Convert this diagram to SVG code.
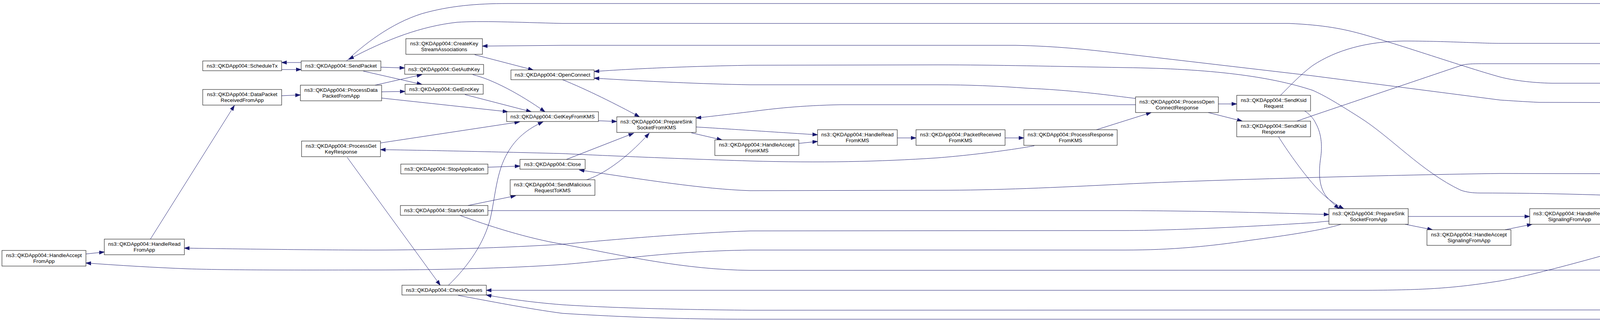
<svg xmlns="http://www.w3.org/2000/svg" width="5741" height="819" viewBox="0 0 5741 819">
<style>
.node rect{fill:#ffffff;stroke:#000000;stroke-width:1}
.node.target rect{fill:#bfbfbf}
.node text{font-family:"Liberation Sans",Arial,Helvetica,sans-serif;font-size:13.33px;text-anchor:middle;fill:#000000}
.edge path{fill:none;stroke:#191970;stroke-width:1;marker-end:url(#ah)}
</style>
<defs>
<marker id="ah" markerWidth="15" markerHeight="12" refX="13" refY="5" orient="auto" markerUnits="userSpaceOnUse">
<path d="M0,0.5 L13,5 L0,9.5 Z" fill="#191970" stroke="#191970" stroke-width="1"/>
</marker>
</defs>
<rect x="0" y="0" width="5741" height="819" fill="#ffffff"/>
<g id="edges" class="edge">
<path d="M220,650 L267,645"/>
<path d="M3433,574 C3400,585 3330,598 3200,615 C3100,630 3000,640 2880,640 L1920,640 C1700,643 1560,668 1440,677 C1300,687 1100,691 960,691 C800,691 600,692 480,688 C400,685 300,679 220,673"/>
<path d="M3402,566 C3385,567 3372,569 3360,570 C3200,580 3000,590 2880,590 L1920,591 C1750,597 1550,615 1440,625 C1300,634 1100,640 960,640 C800,640 600,637 472,635"/>
<path d="M385,612 L600,270"/>
<path d="M771,160 L721,160"/>
<path d="M721,178 L771,178"/>
<path d="M721,245 L769,243"/>
<path d="M887,156 C930,115 1000,60 1080,35 C1150,15 1220,9 1300,9 L5060,9 C5180,11 5290,28 5390,52 C5470,72 5530,95 5576,116"/>
<path d="M5351,482 C5320,440 5270,390 5220,350 C5130,280 5030,235 4950,220 C4890,213 4850,213 4800,213 L3973,213 C3920,212 3870,205 3840,197 C3760,175 3600,120 3493,89 C3440,74 3390,64 3300,60 L1440,60 C1320,57 1230,53 1170,57 C1080,67 990,100 893,152"/>
<path d="M5343,482 C5320,458 5300,445 5270,428 C5180,375 5060,305 4960,280 C4880,266 4850,264 4800,264 L3940,262 C3900,260 3870,258 3840,256 L3360,194 L2880,138 C2780,126 2700,118 2600,116 L1440,116 L1235,118"/>
<path d="M3278,244 C3300,222 3330,190 3360,168 C3420,128 3500,106 3593,105 C3700,105 3790,111 3840,111 L4800,111 C5000,112 5150,114 5261,116 C5350,118 5450,124 5529,129"/>
<path d="M3320,310 L3360,296 L3745,166 C3760,163 3780,163 3800,163 L4800,163 C5000,162 5150,160 5261,158 C5350,155 5450,150 5529,146"/>
<path d="M3340,284 C3352,292 3362,302 3368,315 C3385,345 3385,380 3380,410 C3375,450 3378,485 3400,508 C3410,518 3418,526 3428,534"/>
<path d="M3273,350 C3295,385 3330,435 3365,475 C3390,503 3415,522 3440,534"/>
<path d="M3119,266 L3166,266"/>
<path d="M3093,288 L3180,310"/>
<path d="M2807,332 L2947,288"/>
<path d="M2907,252 C2850,245 2750,231 2633,226 C2550,220 2480,217 2400,217 L1920,217 C1800,215 1650,208 1521,200"/>
<path d="M2907,268 L2153,268 C2050,270 1980,278 1920,286 C1870,292 1820,298 1782,302"/>
<path d="M2648,373 C2600,382 2500,396 2400,404 C2250,414 2100,417 1920,412 C1700,405 1520,397 1440,393 C1200,387 1050,384 974,383"/>
<path d="M2573,353 L2621,353"/>
<path d="M2297,353 L2345,353"/>
<path d="M2045,367 L2093,362"/>
<path d="M1782,325 C1850,329 1950,336 2093,345"/>
<path d="M1770,340 L1848,358"/>
<path d="M1532,309 L1579,311"/>
<path d="M1440,204 C1500,228 1580,268 1637,299"/>
<path d="M1450,408 L1622,341"/>
<path d="M1502,460 C1540,448 1600,410 1662,341"/>
<path d="M1198,526 L1320,501"/>
<path d="M1249,428 L1331,425"/>
<path d="M4686,458 C4500,452 4400,446 4320,445 L3840,444 C3600,447 3100,460 2880,471 C2700,480 2550,487 2400,487 L1920,488 C1800,484 1650,460 1483,435"/>
<path d="M973,366 L1330,312"/>
<path d="M1148,730 C1200,680 1240,620 1255,560 C1268,505 1270,440 1300,390 C1320,355 1350,330 1390,312"/>
<path d="M889,403 L1127,730"/>
<path d="M4463,551 C4420,565 4350,585 4320,594 C4150,640 3950,700 3840,719 C3720,738 3650,742 3500,743 L1245,743"/>
<path d="M5344,508 C5310,550 5250,610 5180,670 C5080,740 4950,785 4800,793 L1920,794 C1700,792 1550,787 1440,780 C1350,773 1290,763 1245,755"/>
<path d="M1173,756 C1250,770 1350,790 1440,802 C1600,812 1750,817 1920,817 L4800,817 C4950,810 5100,760 5200,690 C5270,640 5320,570 5351,509"/>
<path d="M1177,551 C1250,578 1350,610 1440,625 C1600,655 1750,690 1920,692 L4800,691 C4950,680 5100,630 5200,585 C5260,555 5300,530 5333,509"/>
<path d="M1249,539 L2880,539 C3100,540 3250,545 3402,549"/>
<path d="M3605,554 L3916,554"/>
<path d="M3597,574 L3667,588"/>
<path d="M3853,588 L3922,574"/>
<path d="M4120,554 L4168,554"/>
<path d="M4353,546 L4401,542"/>
<path d="M4401,517 C4370,513 4345,510 4320,509 C4150,499 3950,494 3790,494 C3770,494 3755,492 3740,487 C3640,440 3560,350 3480,300 C3420,262 3390,244 3360,231 C3250,195 3100,176 2880,173 C2700,170 2550,166 2400,166 L1920,167 C1750,170 1620,176 1521,183"/>
<path d="M4603,510 L4707,485"/>
<path d="M4635,531 L4682,531"/>
<path d="M4897,466 L4949,466"/>
<path d="M5195,479 L5242,483"/>
<path d="M4901,524 L5242,504"/>
<path d="M5373,483 L5614,156"/>
<path d="M1215,140 L1365,179"/>
<path d="M975,172 L1036,174"/>
<path d="M930,182 L1080,216"/>
<path d="M960,218 L1080,191"/>
<path d="M977,235 L1037,234"/>
<path d="M977,251 L1300,286"/>
<path d="M1210,191 C1260,203 1330,240 1395,286"/>
<path d="M1190,242 L1360,286"/>
</g>
<g id="n1" class="node"><rect x="5" y="641" width="215" height="40"/><text x="112.5" y="658">ns3::QKDApp004::HandleAccept</text><text x="112.5" y="673">FromApp</text></g>
<g id="n2" class="node"><rect x="267" y="612" width="205" height="40"/><text x="369.5" y="629">ns3::QKDApp004::HandleRead</text><text x="369.5" y="644">FromApp</text></g>
<g id="n3" class="node"><rect x="519" y="156" width="202" height="25"/><text x="620" y="173">ns3::QKDApp004::ScheduleTx</text></g>
<g id="n4" class="node"><rect x="519" y="229" width="202" height="40"/><text x="620" y="246">ns3::QKDApp004::DataPacket</text><text x="620" y="261">ReceivedFromApp</text></g>
<g id="n5" class="node"><rect x="771" y="156" width="204" height="25"/><text x="873" y="173">ns3::QKDApp004::SendPacket</text></g>
<g id="n6" class="node"><rect x="769" y="218" width="208" height="40"/><text x="873" y="235">ns3::QKDApp004::ProcessData</text><text x="873" y="250">PacketFromApp</text></g>
<g id="n7" class="node"><rect x="772" y="361" width="202" height="40"/><text x="873" y="378">ns3::QKDApp004::ProcessGet</text><text x="873" y="393">KeyResponse</text></g>
<g id="n8" class="node"><rect x="1039" y="99" width="196" height="40"/><text x="1137" y="116">ns3::QKDApp004::CreateKey</text><text x="1137" y="131">StreamAssociations</text></g>
<g id="n9" class="node"><rect x="1036" y="165" width="202" height="25"/><text x="1137" y="182">ns3::QKDApp004::GetAuthKey</text></g>
<g id="n10" class="node"><rect x="1037" y="216" width="200" height="25"/><text x="1137" y="233">ns3::QKDApp004::GetEncKey</text></g>
<g id="n11" class="node"><rect x="1308" y="179" width="213" height="25"/><text x="1414.5" y="196">ns3::QKDApp004::OpenConnect</text></g>
<g id="n12" class="node"><rect x="1297" y="286" width="235" height="25"/><text x="1414.5" y="303">ns3::QKDApp004::GetKeyFromKMS</text></g>
<g id="n13" class="node"><rect x="1331" y="408" width="167" height="25"/><text x="1414.5" y="425">ns3::QKDApp004::Close</text></g>
<g id="n14" class="node"><rect x="1306" y="460" width="217" height="40"/><text x="1414.5" y="477">ns3::QKDApp004::SendMalicious</text><text x="1414.5" y="492">RequestToKMS</text></g>
<g id="n15" class="node"><rect x="1026" y="420" width="223" height="25"/><text x="1137.5" y="437">ns3::QKDApp004::StopApplication</text></g>
<g id="n16" class="node"><rect x="1025" y="526" width="224" height="25"/><text x="1137" y="543">ns3::QKDApp004::StartApplication</text></g>
<g id="n17" class="node"><rect x="1029" y="730" width="216" height="25"/><text x="1137" y="747">ns3::QKDApp004::CheckQueues</text></g>
<g id="n18" class="node"><rect x="1579" y="299" width="203" height="40"/><text x="1680.5" y="316">ns3::QKDApp004::PrepareSink</text><text x="1680.5" y="331">SocketFromKMS</text></g>
<g id="n19" class="node"><rect x="1830" y="358" width="215" height="40"/><text x="1937.5" y="375">ns3::QKDApp004::HandleAccept</text><text x="1937.5" y="390">FromKMS</text></g>
<g id="n20" class="node"><rect x="2093" y="332" width="204" height="40"/><text x="2195" y="349">ns3::QKDApp004::HandleRead</text><text x="2195" y="364">FromKMS</text></g>
<g id="n21" class="node"><rect x="2345" y="332" width="228" height="40"/><text x="2459" y="349">ns3::QKDApp004::PacketReceived</text><text x="2459" y="364">FromKMS</text></g>
<g id="n22" class="node"><rect x="2621" y="332" width="239" height="40"/><text x="2740.5" y="349">ns3::QKDApp004::ProcessResponse</text><text x="2740.5" y="364">FromKMS</text></g>
<g id="n23" class="node"><rect x="2907" y="248" width="212" height="40"/><text x="3013" y="265">ns3::QKDApp004::ProcessOpen</text><text x="3013" y="280">ConnectResponse</text></g>
<g id="n24" class="node"><rect x="3166" y="244" width="189" height="40"/><text x="3260.5" y="261">ns3::QKDApp004::SendKsid</text><text x="3260.5" y="276">Request</text></g>
<g id="n25" class="node"><rect x="3166" y="310" width="189" height="40"/><text x="3260.5" y="327">ns3::QKDApp004::SendKsid</text><text x="3260.5" y="342">Response</text></g>
<g id="n26" class="node"><rect x="3402" y="534" width="203" height="40"/><text x="3503.5" y="551">ns3::QKDApp004::PrepareSink</text><text x="3503.5" y="566">SocketFromApp</text></g>
<g id="n27" class="node"><rect x="3653" y="588" width="215" height="40"/><text x="3760.5" y="605">ns3::QKDApp004::HandleAccept</text><text x="3760.5" y="620">SignalingFromApp</text></g>
<g id="n28" class="node"><rect x="3916" y="534" width="204" height="40"/><text x="4018" y="551">ns3::QKDApp004::HandleRead</text><text x="4018" y="566">SignalingFromApp</text></g>
<g id="n29" class="node"><rect x="4168" y="534" width="185" height="40"/><text x="4260.5" y="551">ns3::QKDApp004::Signaling</text><text x="4260.5" y="566">PacketReceivedFromApp</text></g>
<g id="n30" class="node"><rect x="4401" y="510" width="234" height="40"/><text x="4518" y="527">ns3::QKDApp004::ProcessSignaling</text><text x="4518" y="542">PacketFromApp</text></g>
<g id="n31" class="node"><rect x="4686" y="445" width="211" height="40"/><text x="4791.5" y="462">ns3::QKDApp004::ProcessSend</text><text x="4791.5" y="477">KsidResponse</text></g>
<g id="n32" class="node"><rect x="4682" y="510" width="219" height="40"/><text x="4791.5" y="527">ns3::QKDApp004::ProcessCreate</text><text x="4791.5" y="542">QueuesResponse</text></g>
<g id="n33" class="node"><rect x="4949" y="446" width="246" height="40"/><text x="5072" y="463">ns3::QKDApp004::CheckAssociations</text><text x="5072" y="478">State</text></g>
<g id="n34" class="node"><rect x="5242" y="483" width="239" height="25"/><text x="5361.5" y="500">ns3::QKDApp004::AppTransitionTree</text></g>
<g id="n35" class="node target"><rect x="5529" y="116" width="207" height="40"/><text x="5632.5" y="133">ns3::QKDApp004::PrepareSend</text><text x="5632.5" y="148">SocketToApp</text></g>
</svg>
